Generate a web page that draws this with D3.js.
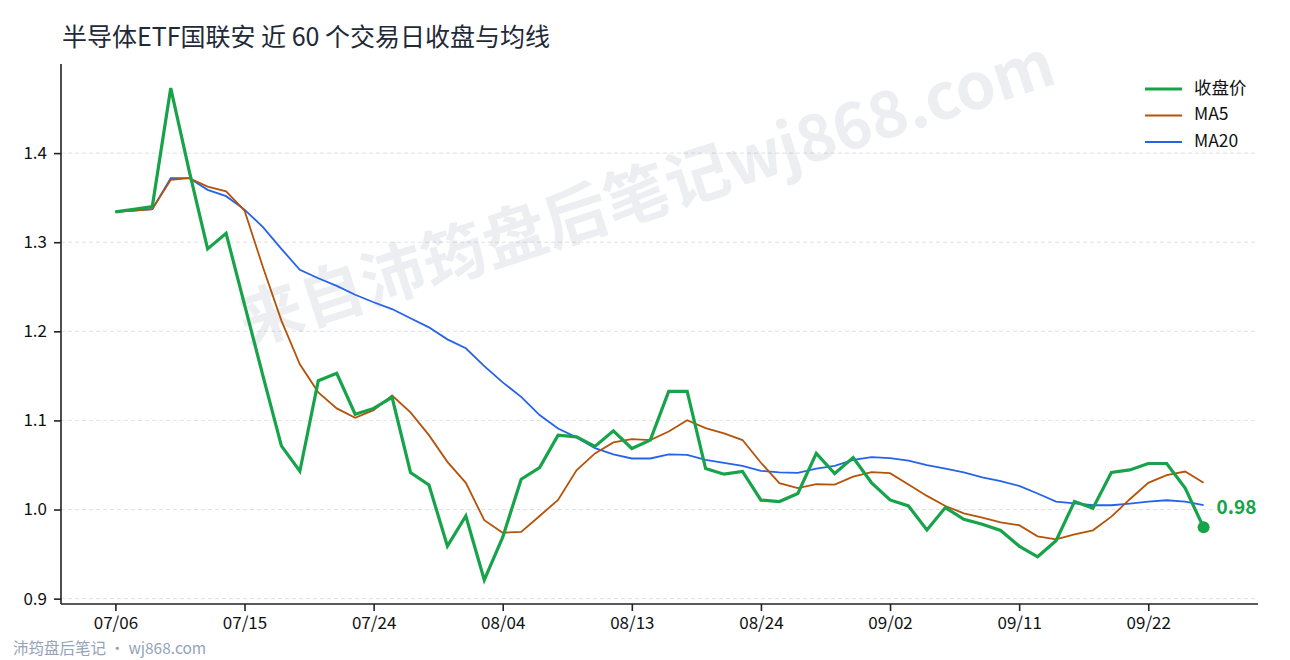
<!DOCTYPE html>
<html>
<head>
<meta charset="utf-8">
<script src="https://cdn.jsdelivr.net/npm/d3@7"></script>
<style>
  body { margin: 0; background: #fff; }
  svg { display: block; font-family: "Noto Sans CJK SC", "Noto Sans", sans-serif; }
</style>
</head>
<body>
<div id="chart"></div>
<script>
// trading days (index 0..59)
const dates = ["07/06","07/07","07/08","07/09","07/10","07/13","07/14","07/15","07/16","07/17",
  "07/20","07/21","07/22","07/23","07/24","07/27","07/28","07/29","07/30","07/31",
  "08/03","08/04","08/05","08/06","08/07","08/10","08/11","08/12","08/13","08/14",
  "08/17","08/18","08/19","08/20","08/21","08/24","08/25","08/26","08/27","08/28",
  "08/31","09/01","09/02","09/03","09/04","09/07","09/08","09/09","09/10","09/11",
  "09/14","09/15","09/16","09/17","09/18","09/21","09/22","09/23","09/24","09/25"];

const close = [1.334,1.337,1.340,1.473,1.380,1.2925,1.310,1.230,1.150,1.0715,
  1.043,1.1445,1.1528,1.107,1.1135,1.126,1.0416,1.0276,0.959,0.9928,
  0.921,0.969,1.034,1.047,1.0835,1.0816,1.0708,1.0883,1.0685,1.0779,
  1.1326,1.1326,1.046,1.0397,1.0427,1.0106,1.009,1.018,1.063,1.0404,
  1.0584,1.030,1.0108,1.004,0.977,1.0022,0.989,0.9835,0.9765,0.959,
  0.947,0.965,1.009,1.0015,1.0416,1.0445,1.0517,1.0517,1.024,0.980];

const ma5 = [1.334,1.3355,1.337,1.370,1.372,1.3625,1.357,1.3355,1.272,1.212,
  1.163,1.1315,1.1135,1.103,1.1116,1.128,1.109,1.0835,1.0535,1.030,
  0.988,0.974,0.975,0.9928,1.0108,1.044,1.063,1.0753,1.079,1.078,
  1.0876,1.1003,1.0913,1.0854,1.078,1.0525,1.0296,1.024,1.0284,1.028,
  1.037,1.042,1.0408,1.028,1.0153,1.004,0.9958,0.991,0.9857,0.9824,
  0.970,0.9666,0.9722,0.9767,0.992,1.0116,1.030,1.0385,1.0427,1.030];

const ma20 = [1.334,1.3355,1.337,1.372,1.372,1.3588,1.3517,1.3366,1.317,1.2925,
  1.269,1.2596,1.251,1.241,1.2326,1.225,1.2146,1.2045,1.191,1.181,
  1.161,1.1427,1.1265,1.106,1.091,1.081,1.069,1.062,1.0573,1.0573,
  1.0618,1.0614,1.0557,1.0524,1.049,1.0434,1.0416,1.0411,1.046,1.049,
  1.0557,1.0588,1.0576,1.055,1.0498,1.046,1.0416,1.036,1.0318,1.0265,
  1.018,1.009,1.007,1.0048,1.0048,1.0067,1.009,1.0104,1.009,1.005];

const xTicks = [0,7,14,21,28,35,42,49,56];
const yTicks = [0.9,1.0,1.1,1.2,1.3,1.4];

const W = 1290, H = 660;
const plotL = 61, plotR = 1258, plotT = 64, plotB = 604;

const svg = d3.select("#chart").append("svg").attr("width", W).attr("height", H);

const x = d3.scaleLinear().domain([-2.95, 61.95]).range([plotL, plotR]);
const y = d3.scaleLinear().domain([0.894, 1.5]).range([plotB, plotT]);

// grid
svg.append("g").selectAll("line").data(yTicks).enter().append("line")
  .attr("x1", plotL).attr("x2", plotR)
  .attr("y1", d => y(d)).attr("y2", d => y(d))
  .attr("stroke", "#d9d9d9").attr("stroke-width", 0.8)
  .attr("stroke-dasharray", "4,3");

// watermark
svg.append("text")
  .attr("transform", "translate(648,198) rotate(-18)")
  .attr("text-anchor", "middle").attr("dominant-baseline", "middle")
  .style("font-size", "64px").style("font-weight", "bold")
  .attr("fill", "rgba(100,116,139,0.12)")
  .text("来自沛筠盘后笔记wj868.com");

// lines
const line = d3.line().x((d, i) => x(i)).y(d => y(d));
svg.append("path").datum(ma20).attr("d", line)
  .attr("fill", "none").attr("stroke", "#2563eb").attr("stroke-width", 1.8);
svg.append("path").datum(ma5).attr("d", line)
  .attr("fill", "none").attr("stroke", "#b45309").attr("stroke-width", 1.8);
svg.append("path").datum(close).attr("d", line)
  .attr("fill", "none").attr("stroke", "#16a34a").attr("stroke-width", 3.2)
  .attr("stroke-linejoin", "miter");

// last point
const last = close.length - 1;
svg.append("circle").attr("cx", x(last)).attr("cy", y(close[last])).attr("r", 6)
  .attr("fill", "#16a34a");
svg.append("text").attr("x", x(last) + 13).attr("y", y(1.0) - 1)
  .attr("dominant-baseline", "middle")
  .style("font-size", "19px").style("font-weight", "bold")
  .attr("fill", "#16a34a").text(close[last].toFixed(2));

// axes
const yAxis = svg.append("g").attr("transform", "translate(" + plotL + ",0)")
  .call(d3.axisLeft(y).tickValues(yTicks).tickFormat(d3.format(".1f")).tickSize(7).tickSizeOuter(0).tickPadding(7));
const xAxis = svg.append("g").attr("transform", "translate(0," + plotB + ")")
  .call(d3.axisBottom(x).tickValues(xTicks).tickFormat(i => dates[i]).tickSize(7).tickSizeOuter(0).tickPadding(6));
[yAxis, xAxis].forEach(a => {
  a.select(".domain").attr("stroke", "#222").attr("stroke-width", 1.6);
  a.selectAll(".tick line").attr("stroke", "#222").attr("stroke-width", 1.6);
  a.selectAll(".tick text").attr("fill", "#111").style("font-size", "17px")
    .style("font-family", "'Noto Sans CJK SC', sans-serif");
});
// y axis spans to the top of the plot
yAxis.select(".domain").attr("d", "M0," + plotB + "V" + plotT);
xAxis.select(".domain").attr("d", "M" + plotL + ",0H" + plotR);

// legend
const legendItems = [
  { name: "收盘价", color: "#16a34a", w: 3.2 },
  { name: "MA5", color: "#b45309", w: 1.8 },
  { name: "MA20", color: "#2563eb", w: 1.8 }
];
const lg = svg.append("g").selectAll("g").data(legendItems).enter().append("g")
  .attr("transform", (d, i) => "translate(1145," + (89 + i * 26.5) + ")");
lg.append("line").attr("x1", 0).attr("x2", 37).attr("y1", 0).attr("y2", 0)
  .attr("stroke", d => d.color).attr("stroke-width", d => d.w);
lg.append("text").attr("x", 49).attr("y", 0).attr("dominant-baseline", "middle")
  .style("font-size", "17.5px").attr("fill", "#111").text(d => d.name);

// title
svg.append("text").attr("x", 62).attr("y", 46)
  .style("font-size", "25px").attr("fill", "#1f2937")
  .text("半导体ETF国联安 近 60 个交易日收盘与均线");

// footer
svg.append("text").attr("x", 13).attr("y", 654)
  .style("font-size", "15.5px").attr("fill", "#94a3b8")
  .text("沛筠盘后笔记 · wj868.com");
</script>
</body>
</html>
